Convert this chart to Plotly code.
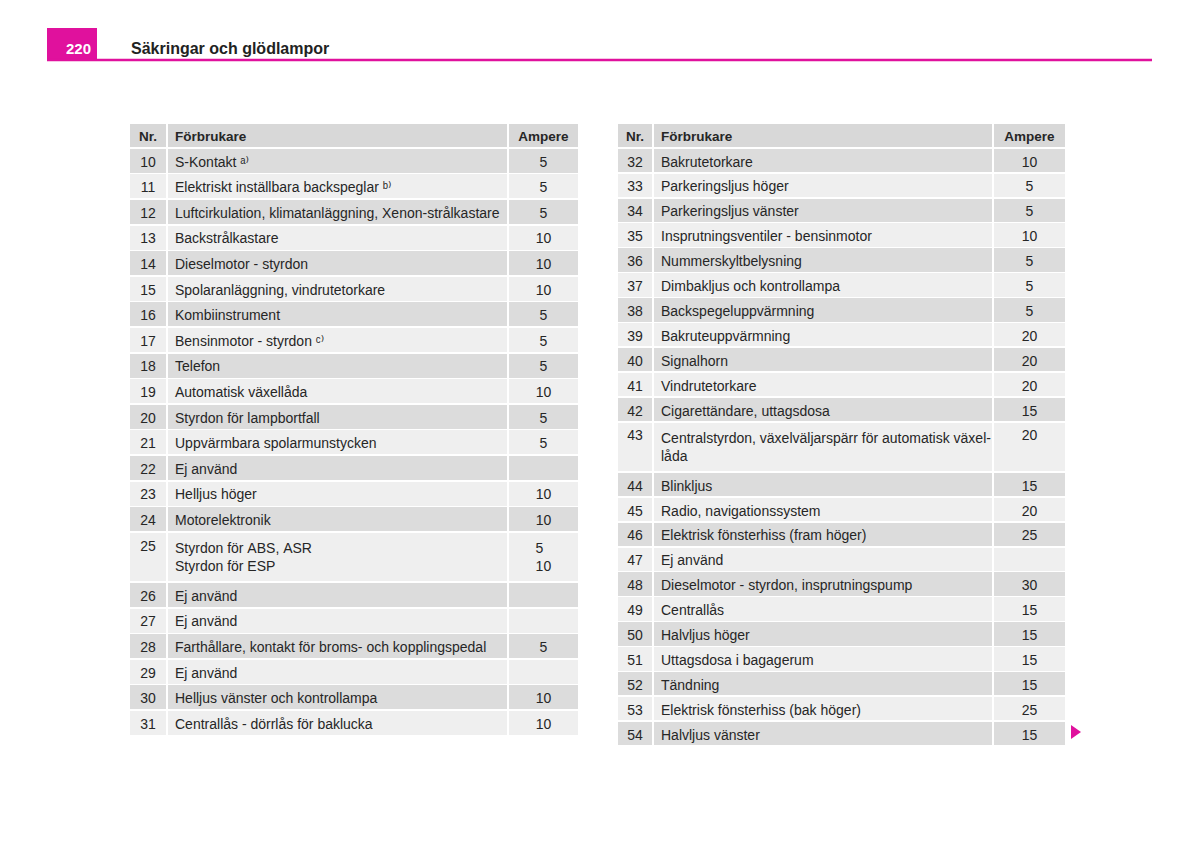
import plotly.graph_objects as go

# ---------------- data ----------------
left_nr = [str(n) for n in range(10, 32)]
left_name = [
    "S-Kontakt ᵃ⁾",
    "Elektriskt inställbara backspeglar ᵇ⁾",
    "Luftcirkulation, klimatanläggning, Xenon-strålkastare",
    "Backstrålkastare",
    "Dieselmotor - styrdon",
    "Spolaranläggning, vindrutetorkare",
    "Kombiinstrument",
    "Bensinmotor - styrdon ᶜ⁾",
    "Telefon",
    "Automatisk växellåda",
    "Styrdon för lampbortfall",
    "Uppvärmbara spolarmunstycken",
    "Ej använd",
    "Helljus höger",
    "Motorelektronik",
    "Styrdon för ABS, ASR<br>Styrdon för ESP",
    "Ej använd",
    "Ej använd",
    "Farthållare, kontakt för broms- och kopplingspedal",
    "Ej använd",
    "Helljus vänster och kontrollampa",
    "Centrallås - dörrlås för baklucka",
]
left_amp = ["5", "5", "5", "10", "10", "10", "5", "5", "5", "10", "5", "5", "",
            "10", "10", "5<br>10", "", "", "5", "", "10", "10"]

right_nr = [str(n) for n in range(32, 55)]
right_name = [
    "Bakrutetorkare",
    "Parkeringsljus höger",
    "Parkeringsljus vänster",
    "Insprutningsventiler - bensinmotor",
    "Nummerskyltbelysning",
    "Dimbakljus och kontrollampa",
    "Backspegeluppvärmning",
    "Bakruteuppvärmning",
    "Signalhorn",
    "Vindrutetorkare",
    "Cigarettändare, uttagsdosa",
    "Centralstyrdon, växelväljarspärr för automatisk växel-<br>låda",
    "Blinkljus",
    "Radio, navigationssystem",
    "Elektrisk fönsterhiss (fram höger)",
    "Ej använd",
    "Dieselmotor - styrdon, insprutningspump",
    "Centrallås",
    "Halvljus höger",
    "Uttagsdosa i bagagerum",
    "Tändning",
    "Elektrisk fönsterhiss (bak höger)",
    "Halvljus vänster",
]
right_amp = ["10", "5", "5", "10", "5", "5", "5", "20", "20", "20", "15", "20",
             "15", "20", "25", "", "30", "15", "15", "15", "15", "25", "15"]

header = ["Nr.", "Förbrukare", "Ampere"]
page_number = "220"
page_title = "Säkringar och glödlampor"

# ---------------- styling ----------------
W, H = 1200, 841
FONT = "Liberation Sans, Arial, DejaVu Sans, sans-serif"
TXT = "#262626"
DARK = "#dcdcdc"
LIGHT = "#efefef"
HEAD = "#d8d8d8"
MAGENTA = "#e0119d"


def row_colors(n):
    return [DARK if i % 2 == 0 else LIGHT for i in range(n)]


def no_wrap(texts):
    # keep each line on one row (line breaks only where the original has them)
    return [t.replace(" ", "\u00a0") for t in texts]


def make_table(nr, name, amp, x0, x1, widths, ch):
    cols = row_colors(len(nr))
    return go.Table(
        domain=dict(x=[x0 / W, x1 / W], y=[0, 1 - 123 / H]),
        columnwidth=widths,
        header=dict(
            values=header,
            fill_color=HEAD,
            line_color="white",
            line_width=1.5,
            align=["center", "left", "center"],
            font=dict(family=FONT, size=13.5, color=TXT, weight="bold"),
            height=25,
        ),
        cells=dict(
            values=[nr, no_wrap(name), amp],
            fill_color=[cols, cols, cols],
            line_color="white",
            line_width=1.5,
            align=["center", "left", "center"],
            font=dict(family=FONT, size=14, color=TXT),
            height=ch,
        ),
    )


fig = go.Figure()
fig.add_trace(make_table(left_nr, left_name, left_amp, 129, 579, [38, 341, 71], 25.6))
fig.add_trace(make_table(right_nr, right_name, right_amp, 617, 1066, [36, 340, 73], 24.9))

# page header decorations
fig.add_shape(type="rect", xref="paper", yref="paper",
              x0=47 / W, x1=97 / W, y0=1 - 59 / H, y1=1 - 28 / H,
              fillcolor=MAGENTA, line_width=0, layer="above")
fig.add_shape(type="line", xref="paper", yref="paper",
              x0=47 / W, x1=1152 / W, y0=1 - 60 / H, y1=1 - 60 / H,
              line=dict(color=MAGENTA, width=2.5))
fig.add_annotation(text="<b>" + page_number + "</b>", xref="paper", yref="paper",
                   x=78 / W, y=1 - 49 / H, showarrow=False,
                   font=dict(family=FONT, size=15, color="white"),
                   xanchor="center", yanchor="middle")
fig.add_annotation(text="<b>" + page_title + "</b>", xref="paper", yref="paper",
                   x=129 / W, y=1 - 49 / H, showarrow=False,
                   font=dict(family=FONT, size=16, color="#222222"),
                   xanchor="left", yanchor="middle")
fig.add_shape(type="path", xref="paper", yref="paper",
              path=f"M {1071/W},{1-725/H} L {1081/W},{1-732/H} L {1071/W},{1-739/H} Z",
              fillcolor=MAGENTA, line_width=0)

fig.update_layout(
    width=W, height=H,
    margin=dict(l=0, r=0, t=0, b=0),
    paper_bgcolor="white",
    plot_bgcolor="white",
    showlegend=False,
)

fig.write_html("out.html", config={"displayModeBar": False},
               post_script="document.body.style.margin='0';")
